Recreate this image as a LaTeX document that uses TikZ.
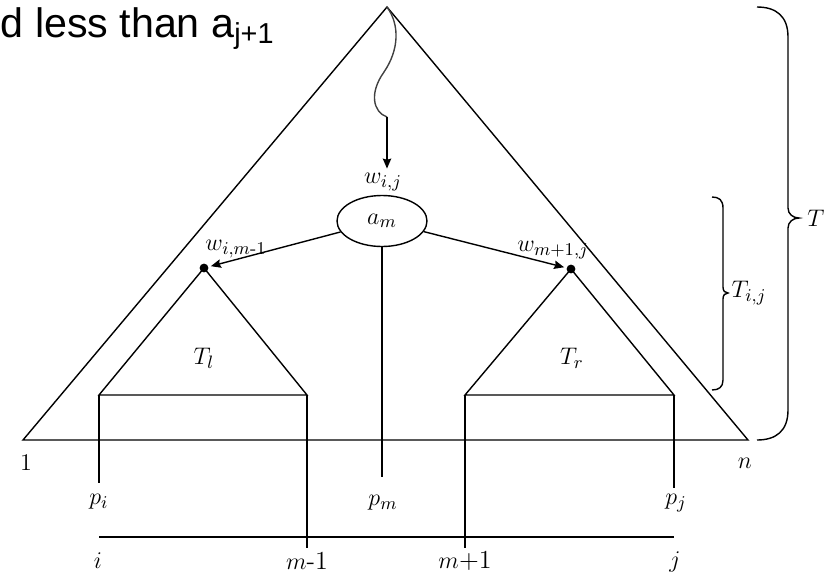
\documentclass[tikz,border=0pt]{standalone}
\usepackage{amsmath}
\usepackage{fontspec}
\newfontfamily\slidefont{Liberation Sans}
\usetikzlibrary{shapes.geometric,arrows.meta}

\begin{document}
\begin{tikzpicture}[x=0.5pt,y=-0.5pt,line width=0.7pt,
	lbl/.style={font=\fontsize{13}{15}\selectfont,inner sep=1pt},
	rootdot/.style={circle,fill,inner sep=0pt,minimum size=4.4pt},
	ptr/.style={-{Stealth[length=5pt,width=4.2pt,inset=0.6pt]},shorten >=1pt}]
\useasboundingbox (0,0) rectangle (831,579);

% slide text, cut at the left
\node[anchor=base west,inner sep=0pt,font=\slidefont\fontsize{20.6}{24}\selectfont] (head) at (0,37) {d less than a\textsubscript{j+1}};

% the whole tree T
\coordinate (top) at (387,7);
\coordinate (one) at (23,440);
\coordinate (en) at (748,440);
\draw (one) -- (top) -- (en) -- cycle;
\node[lbl] (lone) at (26,463) {$1$};
\node[lbl] (lnn) at (745,463) {$n$};

% root a_m and the path down to it
\node[lbl] (wij) at (383,182) {$w_{i,j}$};
\node[draw,ellipse,minimum width=45pt,minimum height=25.5pt,inner sep=0pt,font=\fontsize{13}{15}\selectfont] (am) at (382,221) {$a_m$};
\draw[black!75] (top) .. controls (400,25) and (399,50) .. (384,72) .. controls (369,93) and (373,112) .. (387,117) coordinate (wave);
\draw[ptr] (wave) -- (top |- wij.north);
\draw (am.south) -- ++(0,230);
\node[lbl] (pm) at (383,503) {$p_m$};

% subtree roots
\node[rootdot] (rl) at (204,268) {};
\node[rootdot] (rr) at (571,269) {};
\node[lbl] (wl) at (236,249) {$w_{i,m\text{-}1}$};
\node[lbl] (wr) at (553,250) {$w_{m+1,j}$};
\draw[ptr] (am) -- (rl);
\draw[ptr] (am) -- (rr);

% subtrees T_l and T_r
\coordinate (il) at (99,395);
\coordinate (ml) at (307,395);
\coordinate (mr) at (465,395);
\coordinate (jr) at (674,395);
\draw (rl.center) -- (il) -- (ml) -- cycle;
\draw (rr.center) -- (mr) -- (jr) -- cycle;
\node[lbl] (tl) at (204,358) {$T_l$};
\node[lbl] (tr) at (572,358) {$T_r$};

% key ranges
\draw (il) -- ++(0,88);
\draw (ml) -- ++(0,153);
\draw (mr) -- ++(0,153);
\draw (jr) -- ++(0,93);
\draw (il |- 0,537) -- (jr |- 0,537);
\node[lbl] (lpi) at (99,502) {$p_i$};
\node[lbl] (lpj) at (676,503) {$p_j$};
\node[lbl] (li) at (98,561) {$i$};
\node[lbl] (lm1) at (307,561) {$m$-1};
\node[lbl] (lm2) at (465,561) {$m$+1};
\node[lbl] (lj) at (675,562) {$j$};

% braces
\draw (757,7) .. controls (776,7) and (788,16) .. (788,37) -- (788,208)
	.. controls (788,214) and (793,218) .. (799,218)
	.. controls (793,218) and (788,222) .. (788,228) -- (788,410)
	.. controls (788,431) and (776,440) .. (757,440);
\node[lbl] (lt) at (816,218) {$T$};
\draw (712,197) .. controls (719,197) and (723,200) .. (723,208) -- (723,287)
	.. controls (723,291) and (725,293) .. (728,293)
	.. controls (725,293) and (723,295) .. (723,299) -- (723,380)
	.. controls (723,387) and (719,390) .. (712,390);
\node[lbl] (ltij) at (749,293) {$T_{i,j}$};

\end{tikzpicture}
\end{document}
